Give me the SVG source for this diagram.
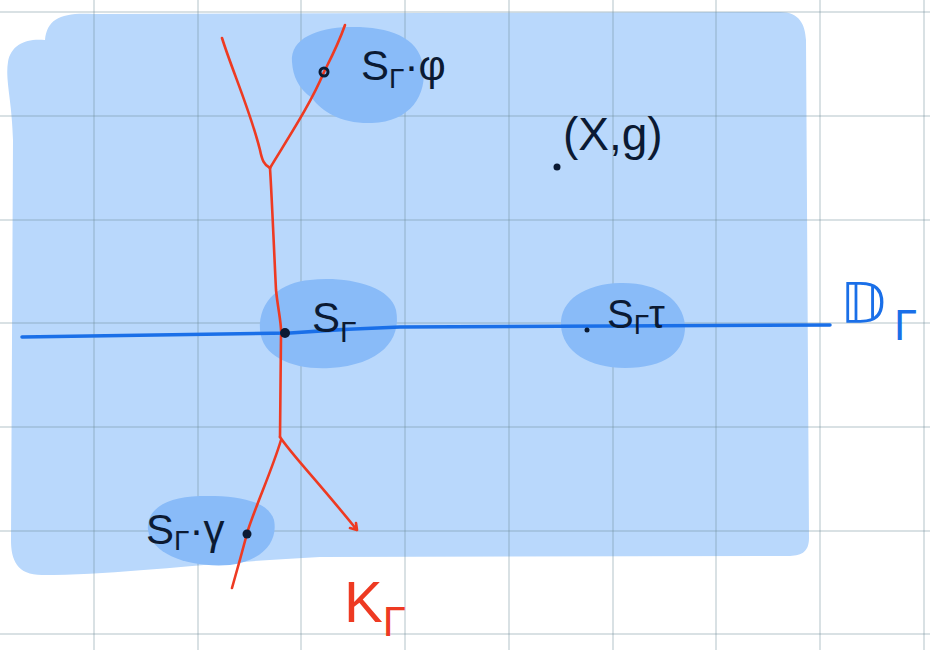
<svg xmlns="http://www.w3.org/2000/svg" width="930" height="650" viewBox="0 0 930 650">
<style>
.grid line{stroke:#6c8c94;stroke-opacity:0.35;stroke-width:1.5}
.red{fill:none;stroke:#ee3a22;stroke-width:2.6;stroke-linecap:round;stroke-linejoin:round}
.lbl{font-family:"Liberation Sans","DejaVu Sans",sans-serif;fill:#0b1a33}
.blob{fill:#89bbf8}
</style>
<rect width="930" height="650" fill="#ffffff"/>
<g id="region">
<path d="M45,40 C47,18 62,12 95,14 L780,12 C800,12 805,25 806,40 L809,538 C809,553 800,556 788,556 L320,557 C200,563 120,575 42,575 C17,575 11,560 11,540 L13,140 C12,100 5,80 8,62 C11,44 27,38 45,40 Z" fill="#b9d8fc"/>
</g>
<g class="grid">
<line x1="0" y1="12" x2="930" y2="12"/>
<line x1="0" y1="116" x2="930" y2="116"/>
<line x1="0" y1="220" x2="930" y2="220"/>
<line x1="0" y1="323" x2="930" y2="323"/>
<line x1="0" y1="427" x2="930" y2="427"/>
<line x1="0" y1="531" x2="930" y2="531"/>
<line x1="0" y1="634" x2="930" y2="634"/>
<line x1="94" y1="0" x2="94" y2="650"/>
<line x1="198" y1="0" x2="198" y2="650"/>
<line x1="301" y1="0" x2="301" y2="650"/>
<line x1="405" y1="0" x2="405" y2="650"/>
<line x1="509" y1="0" x2="509" y2="650"/>
<line x1="613" y1="0" x2="613" y2="650"/>
<line x1="716" y1="0" x2="716" y2="650"/>
<line x1="820" y1="0" x2="820" y2="650"/>
<line x1="924" y1="0" x2="924" y2="650"/>
</g>
<g id="blobs">
<path class="blob" d="M292,62 C290,38 318,28 348,27 C385,26 418,35 423,65 C428,95 410,122 372,123 C342,124 322,112 312,98 C298,88 293,76 292,62 Z"/>
<path class="blob" d="M260,330 C258,300 282,282 310,280 C345,276 390,285 396,310 C402,340 380,365 330,368 C295,370 262,358 260,330 Z"/>
<path class="blob" d="M561,325 C560,300 585,284 620,283 C658,282 683,300 685,325 C686,352 665,368 625,368 C590,368 562,352 561,325 Z"/>
<path class="blob" d="M148,530 C146,510 165,497 200,496 C235,495 268,500 274,520 C278,540 265,560 230,565 C190,568 152,555 148,530 Z"/>
</g>
<g id="connectors">
<path class="red" d="M222,38 C232,70 250,110 260,150 C262,160 264,165 270,168"/>
<path class="red" d="M345,25 C338,45 330,60 324,72 C310,105 290,135 270,168"/>
<path class="red" d="M270,168 C272,200 274,250 276,290 C278,310 282,325 281,335 L280,437"/>
<path class="red" d="M280,437 C292,455 315,478 357,530 M350,528 L357,530 L356,523"/>
<path class="red" d="M281,440 C272,470 258,500 248,530 C244,545 240,560 232,588"/>
<path d="M22,337 L290,333 C330,330 370,328 400,327 L830,325" fill="none" stroke="#1a6fe8" stroke-width="3.5" stroke-linecap="round"/>
</g>
<g id="node-phi">
<circle cx="324" cy="72" r="4" fill="none" stroke="#0b1a33" stroke-width="3"/>
<text class="lbl" x="361" y="80" font-size="42">S<tspan font-size="28" dy="8">Γ</tspan><tspan dy="-8">·φ</tspan></text>
</g>
<g id="node-xg">
<circle cx="557" cy="167" r="3.5" fill="#0b1a33"/>
<text class="lbl" x="563" y="150" font-size="46">(X,g)</text>
</g>
<g id="node-s">
<circle cx="285" cy="333" r="5" fill="#0b1a33"/>
<text class="lbl" x="312" y="332" font-size="42">S<tspan font-size="30" dy="10">Γ</tspan></text>
</g>
<g id="node-tau">
<circle cx="587" cy="330" r="2.5" fill="#0b1a33"/>
<text class="lbl" x="607" y="328" font-size="40">S<tspan font-size="28" dy="6">Γ</tspan><tspan dy="-6">τ</tspan></text>
</g>
<g id="node-gamma">
<circle cx="247" cy="534" r="4.5" fill="#0b1a33"/>
<text class="lbl" x="146" y="544" font-size="42">S<tspan font-size="28" dy="6">Γ</tspan><tspan dy="-6">·γ</tspan></text>
</g>
<g id="label-D">
<text x="840" y="322" font-size="56" font-family="DejaVu Sans,sans-serif" fill="#1a6fe8">𝔻<tspan font-size="40" dx="8" dy="18">Γ</tspan></text>
</g>
<g id="label-K">
<text x="344" y="622" font-size="58" font-family="Liberation Sans,sans-serif" fill="#ee3a22">K<tspan font-size="42" dy="14">Γ</tspan></text>
</g>
</svg>
